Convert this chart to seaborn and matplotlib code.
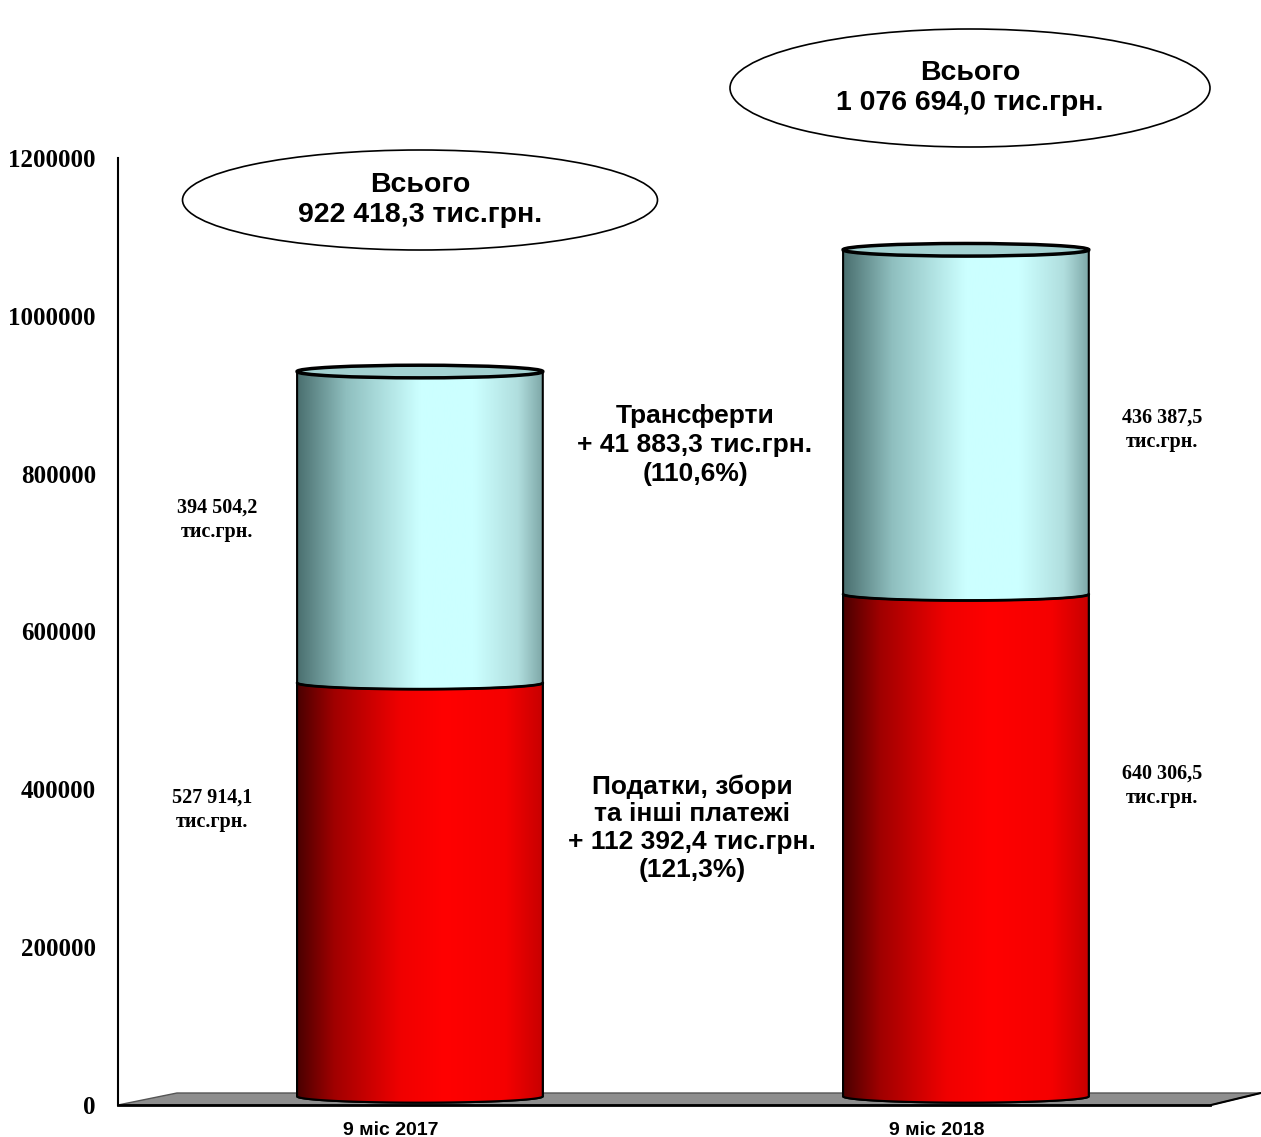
import numpy as np
import pandas as pd
import matplotlib
matplotlib.use("Agg")
import matplotlib.pyplot as plt
import seaborn as sns
from matplotlib.path import Path
from matplotlib.patches import PathPatch, Ellipse, Polygon
from matplotlib.colors import LinearSegmentedColormap

# data
periods = ["9 міс 2017", "9 міс 2018"]
taxes = [527914.1, 640306.5]
transfers = [394504.2, 436387.5]
totals = [t + r for t, r in zip(taxes, transfers)]
tax_labels = ["527 914,1\nтис.грн.", "640 306,5\nтис.грн."]
transfer_labels = ["394 504,2\nтис.грн.", "436 387,5\nтис.грн."]
total_labels = ["Всього\n922 418,3 тис.грн.", "Всього\n1 076 694,0 тис.грн."]
transfer_diff = "Трансферти\n+ 41 883,3 тис.грн.\n(110,6%)"
tax_diff = "Податки, збори\nта інші платежі\n+ 112 392,4 тис.грн.\n(121,3%)"

sns.set_style("white")
plt.rcParams['font.family'] = ['Liberation Sans', 'DejaVu Sans']
plt.rcParams['text.color'] = 'black'
plt.rcParams['xtick.color'] = 'black'
plt.rcParams['ytick.color'] = 'black'

W, H = 1261, 1137
fig = plt.figure(figsize=(W / 100, H / 100), dpi=100)
ax = fig.add_axes([118 / W, 32 / H, 1092 / W, 947 / H])

df = pd.DataFrame({"period": periods, "total": totals, "tax": taxes})
sns.barplot(data=df, x="period", y="total", color="#ccffff", width=0.45, ax=ax)
sns.barplot(data=df, x="period", y="tax", color="red", width=0.45, ax=ax)

red_cmap = LinearSegmentedColormap.from_list("red3d", [
    (0.0, "#4a0000"), (0.15, "#a00000"), (0.42, "#f00000"),
    (0.6, "#ff0000"), (0.85, "#f50000"), (1.0, "#c80000")])
cyan_cmap = LinearSegmentedColormap.from_list("cyan3d", [
    (0.0, "#4a6f6f"), (0.2, "#8fbfbf"), (0.5, "#ccffff"),
    (0.72, "#ccffff"), (0.9, "#b0dede"), (1.0, "#7fa8a8")])

dh = 8000      # half height of cylinder ellipse (data units)
shift = 0.053  # perspective offset of the bars
base = dh + 3000
lift = 7000    # bars drawn slightly raised above the floor


def body_path(x0, w, y0, y1):
    t = np.linspace(0, np.pi, 80)
    xs = x0 + w / 2 - w / 2 * np.cos(t)
    bottom = y0 - dh * np.sin(t)
    top = y1 - dh * np.sin(t)
    verts = list(zip(xs, bottom)) + list(zip(xs[::-1], top[::-1])) + [(xs[0], bottom[0])]
    codes = [Path.MOVETO] + [Path.LINETO] * (len(verts) - 2) + [Path.CLOSEPOLY]
    return Path(verts, codes)


grad = np.linspace(0, 1, 256).reshape(1, -1)
n = len(periods)
for i, p in enumerate(ax.patches):
    p.set_visible(False)
    x0 = p.get_x() + shift
    w = p.get_width()
    y1 = p.get_height() + lift
    cmap = cyan_cmap if i < n else red_cmap
    z = 3 if i < n else 4
    pp = PathPatch(body_path(x0, w, base, y1), facecolor="none",
                   edgecolor="black", lw=1.5, transform=ax.transData, zorder=z + 0.5)
    ax.add_patch(pp)
    im = ax.imshow(grad, cmap=cmap, extent=[x0, x0 + w, base - dh, y1],
                   aspect="auto", zorder=z, origin="lower")
    im.set_clip_path(pp)
    if i < n:
        ax.add_patch(Ellipse((x0 + w / 2, y1), w, 2 * dh, facecolor="#a3d1d1",
                             edgecolor="black", lw=2.5, zorder=6))
    else:
        t = np.linspace(0, np.pi, 80)
        ax.plot(x0 + w / 2 - w / 2 * np.cos(t), y1 - dh * np.sin(t),
                color="black", lw=2, zorder=5)

# floor
floor = Polygon([(-0.5, 0), (-0.392, 15200), (1.593, 15200), (1.502, 0)],
                closed=True, facecolor="#8e8e8e", edgecolor="#555555", lw=1,
                clip_on=False, zorder=1)
ax.add_patch(floor)
ax.plot([1.502, 1.593], [0, 15200], color="black", lw=1.5, clip_on=False, zorder=2)

ax.set_xlim(-0.5, 1.5)
ax.set_ylim(0, 1200000)
ax.set_xlabel("")
ax.set_ylabel("")
sns.despine(ax=ax)
ax.spines["left"].set_color("black")
ax.spines["left"].set_linewidth(1.5)
ax.spines["bottom"].set_color("black")
ax.spines["bottom"].set_linewidth(2)
ax.spines["bottom"].set_zorder(7)

ax.set_yticks(range(0, 1200001, 200000))
ax.set_yticklabels([str(v) for v in range(0, 1200001, 200000)],
                   fontfamily="Liberation Serif", fontweight="bold", fontsize=18)
ax.tick_params(axis="y", direction="out", length=6, width=1.5, color="black", pad=10)
ax.set_xticks(range(n))
ax.set_xticklabels(periods, fontweight="bold", fontsize=14)
ax.tick_params(axis="x", which="major", length=0, pad=12)
ax.set_xticks([-0.5, 0.5, 1.5], minor=True)
ax.tick_params(axis="x", which="minor", direction="out", length=6, width=1, color="black")


def px(x, y):
    return x / W, 1 - y / H


# total ellipses
for (cx, cy, ew, eh), lab in zip([(420, 200, 475, 100), (970, 88, 480, 118)], total_labels):
    fx, fy = px(cx, cy)
    fig.patches.append(Ellipse((fx, fy), ew / W, eh / H, transform=fig.transFigure,
                               facecolor="white", edgecolor="black", lw=1.2))
    fig.text(fx, fy, lab, ha="center", va="center", fontsize=20.5,
             fontweight="bold", linespacing=1.2)

fig.text(*px(695, 445), transfer_diff, ha="center", va="center", fontsize=19,
         fontweight="bold", linespacing=1.25)
fig.text(*px(692, 828), tax_diff, ha="center", va="center", fontsize=19,
         fontweight="bold", linespacing=1.2)

serif = dict(ha="center", va="center", fontsize=14.5, fontweight="bold",
             fontfamily="Liberation Serif", linespacing=1.3)
fig.text(*px(217, 520), transfer_labels[0], **serif)
fig.text(*px(212, 810), tax_labels[0], **serif)
fig.text(*px(1162, 430), transfer_labels[1], **serif)
fig.text(*px(1162, 786), tax_labels[1], **serif)

fig.savefig("out.png", dpi=100, facecolor="white")
